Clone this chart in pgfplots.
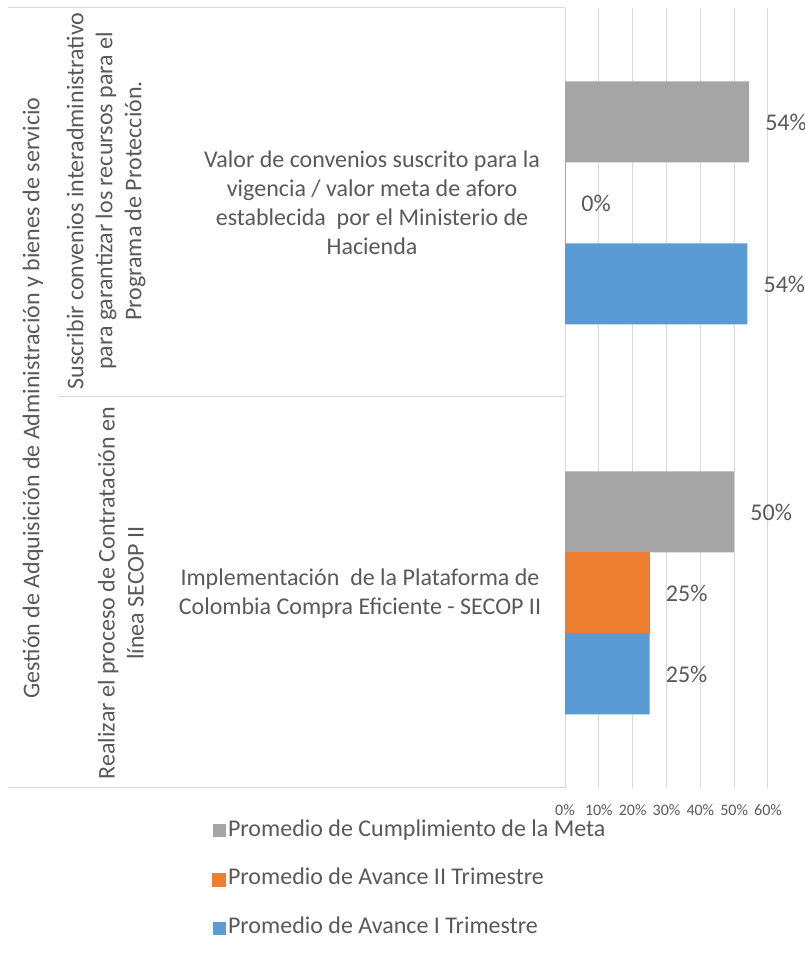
\documentclass[border=0pt]{standalone}
\usepackage{fontspec}
\setmainfont{Carlito}
\usepackage{pgfplots}
\pgfplotsset{compat=1.18}
\definecolor{cgray}{HTML}{A5A5A5}
\definecolor{corange}{HTML}{ED7D31}
\definecolor{cblue}{HTML}{5B9BD5}
\definecolor{ctext}{HTML}{595959}
\definecolor{cline}{HTML}{D9D9D9}
\begin{document}
\begin{tikzpicture}
\path[use as bounding box] (0,0) rectangle (603.75pt,719.25pt);
\begin{axis}[
  at={(423.75pt,128.25pt)}, anchor=south west,
  scale only axis, width=152.25pt, height=585pt,
  xmin=0, xmax=60, ymin=-0.5, ymax=1.5,
  xbar, bar width=60.75pt,
  xtick={0,10,...,60},
  xticklabels={0\%,10\%,20\%,30\%,40\%,50\%,60\%},
  ytick=\empty,
  xmajorgrids, grid style={cline, line width=0.75pt},
  axis line style={draw=none},
  major tick length=0pt,
  xticklabel style={font=\fontsize{12}{14}\selectfont, text=ctext, yshift=-9pt},
  nodes near coords={\pgfmathprintnumber[fixed,precision=0,assume math mode=true]{\pgfplotspointmeta}\%},
  nodes near coords style={font=\fontsize{18}{22}\selectfont, text=ctext, anchor=west, inner sep=0pt, xshift=12pt},
  point meta=x,
  clip=false,
  legend image code/.code={\fill[#1] (0pt,-4.875pt) rectangle (9.75pt,4.875pt);},
  legend style={at={(axis description cs:-1.7389,-0.0385)}, anchor=north west,
    draw=none, fill=none, font=\fontsize{18}{22}\selectfont, text=ctext,
    inner sep=0pt, row sep=17.4pt,
    nodes={inner sep=1.5pt, text height=12pt, text depth=4pt}},
  legend cell align=left,
]
\addplot[fill=cgray, draw=none, bar shift=60.75pt] coordinates {(54.4,1) (50,0)};
\addlegendentry{Promedio de Cumplimiento de la Meta}
\addplot[fill=corange, draw=corange, line width=0.6pt, bar shift=0pt] coordinates {(0,1) (25,0)};
\addlegendentry{Promedio de Avance II Trimestre}
\addplot[fill=cblue, draw=none, bar shift=-60.75pt] coordinates {(53.9,1) (25,0)};
\addlegendentry{Promedio de Avance I Trimestre}
\end{axis}
\draw[cline, line width=0.75pt] (6pt,713.25pt) -- (423.75pt,713.25pt);
\draw[cline, line width=0.75pt] (43.5pt,421.5pt) -- (423.75pt,421.5pt);
\draw[cline, line width=0.75pt] (6pt,128.25pt) -- (423.75pt,128.25pt);
\begin{scope}[every node/.style={text=ctext, font=\fontsize{18}{21.75}\selectfont, align=center, inner sep=0pt}]
\node[rotate=90] at (24.75pt,420.75pt) {Gestión de Adquisición de Administración y bienes de servicio};
\node[rotate=90] at (79.5pt,568.5pt) {Suscribir convenios interadministrativo\\para garantizar los recursos para el\\Programa de Protección.};
\node[rotate=90] at (90.75pt,274.5pt) {Realizar el proceso de Contratación en\\línea SECOP II};
\node at (279pt,567pt) {Valor de convenios suscrito para la\\vigencia / valor meta de aforo\\establecida\ \ por el Ministerio de\\Hacienda};
\node at (270pt,273.75pt) {Implementación\ \ de la Plataforma de\\Colombia Compra Eficiente - SECOP II};
\end{scope}
\end{tikzpicture}
\end{document}
